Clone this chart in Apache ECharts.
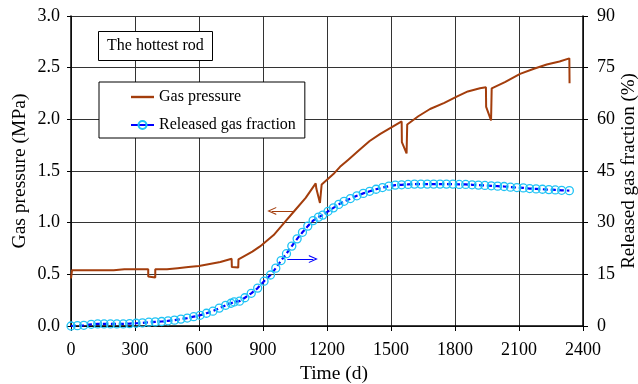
<!DOCTYPE html>
<html>
<head>
<meta charset="utf-8">
<script src="https://cdn.jsdelivr.net/npm/echarts@6/dist/echarts.min.js"></script>
<style>
  html, body { margin: 0; padding: 0; background: #fff; }
  #chart { width: 638px; height: 384px; }
</style>
</head>
<body>
<div id="chart"></div>
<script>
// gas pressure of the hottest rod (MPa), vertical drops are kept as double points
const pressureDays = [0, 5, 100, 200, 250, 300, 362, 362, 395, 395, 450, 500, 550, 600, 650, 700, 753, 754, 784, 785,
  850, 886, 950, 1000, 1050, 1100, 1147, 1150, 1167, 1173, 1175, 1230, 1261, 1300, 1350, 1400, 1450, 1500, 1550, 1551,
  1573, 1576, 1628, 1683, 1750, 1808, 1860, 1917, 1945, 1946, 1969, 1972, 2034, 2105, 2170, 2230, 2290, 2336, 2337];
const pressure = [0.46, 0.54, 0.54, 0.54, 0.55, 0.55, 0.55, 0.48, 0.47, 0.55, 0.55, 0.56, 0.57, 0.58, 0.60, 0.62, 0.65, 0.57, 0.565, 0.645,
  0.72, 0.77, 0.88, 1.00, 1.12, 1.24, 1.38, 1.33, 1.19, 1.19, 1.37, 1.47, 1.54, 1.61, 1.70, 1.79, 1.86, 1.92, 1.98, 1.78,
  1.67, 1.95, 2.03, 2.10, 2.16, 2.22, 2.27, 2.30, 2.31, 2.12, 1.99, 2.30, 2.36, 2.44, 2.49, 2.53, 2.56, 2.59, 2.35];

// released gas fraction (%)
const fractionDays = [0, 30, 60, 95, 125, 155, 185, 215, 245, 275, 305, 335, 365, 395, 425, 455, 485, 515, 545, 575,
  605, 635, 665, 695, 725, 750, 765, 790, 815, 845, 875, 905, 935, 960, 985, 1010, 1035, 1060, 1085, 1110,
  1135, 1160, 1180, 1205, 1230, 1255, 1280, 1310, 1340, 1370, 1400, 1430, 1460, 1490, 1520, 1550, 1580, 1610, 1640, 1670,
  1700, 1730, 1760, 1790, 1820, 1850, 1880, 1910, 1940, 1970, 2000, 2030, 2060, 2090, 2120, 2150, 2180, 2210, 2240, 2270,
  2300, 2336];
const fraction = [0.0, 0.1, 0.2, 0.5, 0.6, 0.6, 0.6, 0.6, 0.6, 0.7, 0.8, 0.9, 1.1, 1.2, 1.3, 1.5, 1.7, 2.0, 2.3, 2.7,
  3.1, 3.7, 4.3, 5.2, 6.0, 6.6, 7.0, 7.2, 8.2, 9.5, 11.0, 13.0, 14.8, 16.8, 19.0, 21.0, 23.2, 25.3, 27.2, 29.0,
  30.6, 31.6, 32.2, 33.3, 34.3, 35.3, 36.2, 37.0, 37.8, 38.5, 39.1, 39.7, 40.2, 40.6, 40.9, 41.0, 41.1, 41.2, 41.2, 41.2,
  41.2, 41.2, 41.2, 41.2, 41.1, 41.1, 41.0, 40.9, 40.8, 40.7, 40.6, 40.5, 40.3, 40.2, 40.1, 39.9, 39.8, 39.7, 39.6, 39.5,
  39.4, 39.3];

const dayTicks = [0, 300, 600, 900, 1200, 1500, 1800, 2100, 2400];

// arrows telling which axis each curve belongs to
const pressureArrow = [[941, 1.113], [1050, 1.113]];
const fractionArrow = [[1014, 19.45], [1136, 19.45]];

const FONT = 'Liberation Serif';
const brown = '#a33d0c';
const blue = '#0000ff';
const chevron = 'path://M0,10 L5,0 L10,10 L8.6,10 L5,2.8 L1.4,10 Z';
const dash = 'path://M0,0 L23,0 L23,2.4 L0,2.4 Z';

const zip = (xs, ys) => xs.map((x, i) => [x, ys[i]]);

const chart = echarts.init(document.getElementById('chart'), null, { renderer: 'canvas' });
chart.setOption({
  animation: false,
  backgroundColor: '#fff',
  title: {
    text: 'The hottest rod',
    left: 98,
    top: 31,
    padding: [7, 9, 7, 9],
    borderWidth: 1,
    borderColor: '#000',
    backgroundColor: '#fff',
    textStyle: { fontFamily: FONT, fontSize: 16, fontWeight: 'normal', color: '#000' }
  },
  legend: {
    orient: 'vertical',
    left: 99,
    top: 82,
    padding: [7, 9, 5, 31],
    itemGap: 12,
    itemWidth: 23,
    itemHeight: 10,
    borderWidth: 1,
    borderColor: '#000',
    backgroundColor: '#fff',
    lineStyle: { type: 'solid' },
    textStyle: { fontFamily: FONT, fontSize: 16, color: '#000', lineHeight: 16 },
    data: [
      { name: 'Gas pressure', icon: dash, itemStyle: { color: brown } },
      'Released gas fraction'
    ]
  },
  grid: { left: 71, right: 55, top: 16, bottom: 58, outerBoundsMode: 'none' },
  xAxis: {
    type: 'value',
    min: dayTicks[0],
    max: dayTicks[dayTicks.length - 1],
    interval: 300,
    name: 'Time (d)',
    nameLocation: 'middle',
    nameGap: 38,
    nameMoveOverlap: false,
    nameTextStyle: { fontFamily: FONT, fontSize: 19.5, color: '#000', padding: [0, 0, 0, 14] },
    axisLine: { onZero: false, lineStyle: { color: '#000', width: 1.5 } },
    axisTick: { inside: false, length: 5, lineStyle: { color: '#000' } },
    axisLabel: { fontFamily: FONT, fontSize: 18, color: '#000', margin: 15, formatter: v => String(v) },
    splitLine: { show: true, lineStyle: { color: '#333', width: 1 } }
  },
  yAxis: [
    {
      type: 'value',
      min: 0,
      max: 3,
      interval: 0.5,
      name: 'Gas pressure (MPa)',
      nameLocation: 'middle',
      nameGap: 41,
      nameMoveOverlap: false,
      nameTextStyle: { fontFamily: FONT, fontSize: 19.5, color: '#000' },
      axisLine: { show: true, lineStyle: { color: '#000', width: 1.5 } },
      axisTick: { show: true, length: 4, lineStyle: { color: '#000' } },
      axisLabel: { fontFamily: FONT, fontSize: 18, color: '#000', margin: 11, formatter: v => v.toFixed(1) },
      splitLine: { show: true, lineStyle: { color: '#333', width: 1 } }
    },
    {
      type: 'value',
      min: 0,
      max: 90,
      interval: 15,
      name: 'Released gas fraction (%)',
      nameLocation: 'middle',
      nameGap: 37,
      nameMoveOverlap: false,
      nameTextStyle: { fontFamily: FONT, fontSize: 19, color: '#000' },
      axisLine: { show: true, lineStyle: { color: '#000', width: 1.5 } },
      axisTick: { show: true, length: 5, lineStyle: { color: '#000' } },
      axisLabel: { fontFamily: FONT, fontSize: 18, color: '#000', margin: 14 },
      splitLine: { show: false }
    }
  ],
  series: [
    {
      name: 'Gas pressure',
      type: 'line',
      yAxisIndex: 0,
      data: zip(pressureDays, pressure),
      showSymbol: false,
      symbol: 'none',
      lineStyle: { color: brown, width: 2 },
      itemStyle: { color: brown },
      markLine: {
        silent: true,
        symbol: [chevron, 'none'],
        symbolSize: [8, 9],
        label: { show: false },
        lineStyle: { color: brown, width: 1, type: 'solid' },
        data: [[{ coord: pressureArrow[0] }, { coord: pressureArrow[1] }]]
      }
    },
    {
      name: 'Released gas fraction',
      type: 'line',
      yAxisIndex: 1,
      data: zip(fractionDays, fraction),
      symbol: 'circle',
      symbolSize: 8,
      showAllSymbol: true,
      lineStyle: { color: blue, width: 2.2, type: [5, 3] },
      itemStyle: { color: 'rgba(255,255,255,0)', borderColor: '#1fc3f5', borderWidth: 1.3 },
      markLine: {
        silent: true,
        symbol: ['none', chevron],
        symbolSize: [8, 9],
        label: { show: false },
        lineStyle: { color: blue, width: 1, type: 'solid' },
        data: [[{ coord: fractionArrow[0] }, { coord: fractionArrow[1] }]]
      }
    }
  ]
});
</script>
</body>
</html>
